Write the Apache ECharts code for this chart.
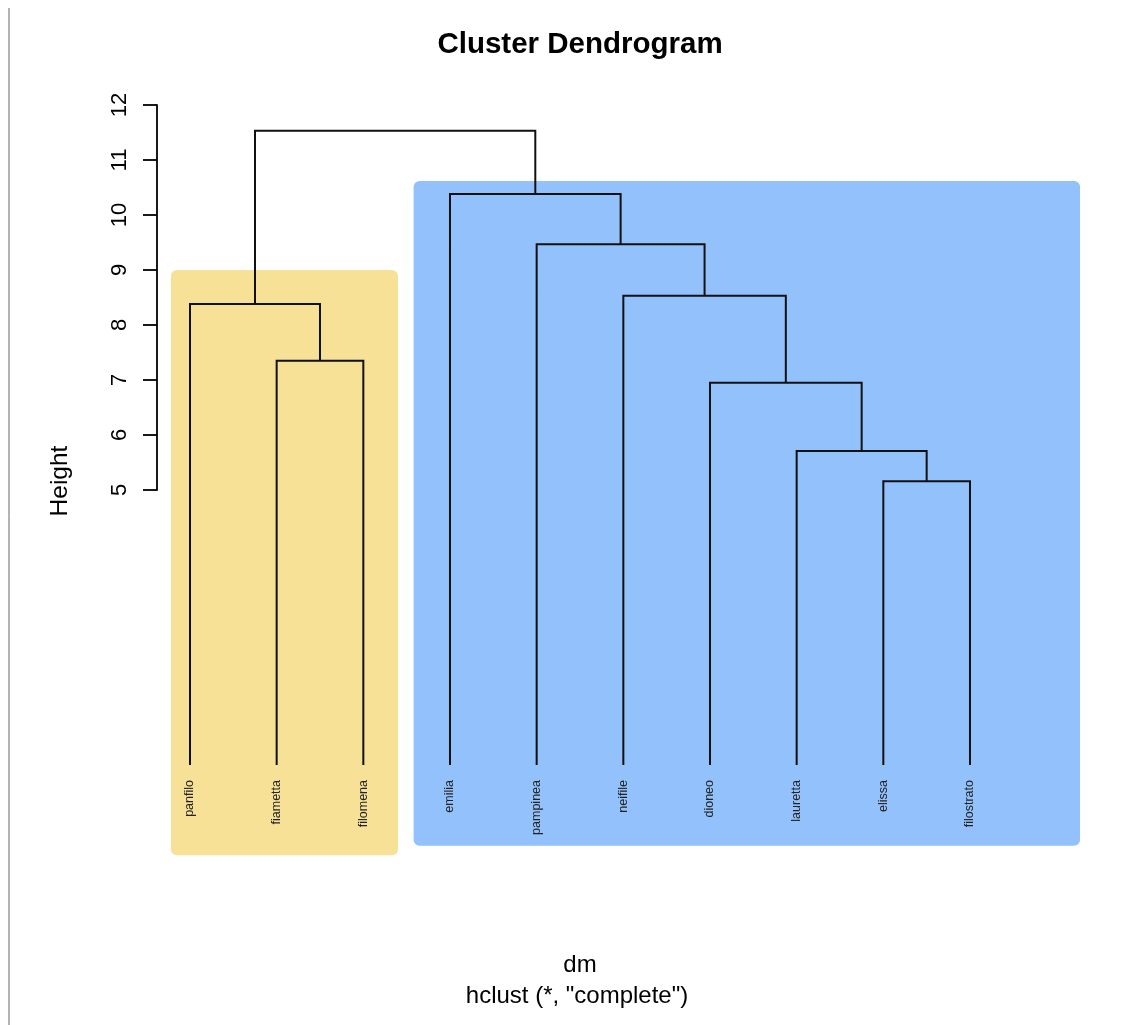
<!DOCTYPE html>
<html>
<head>
<meta charset="utf-8">
<script src="https://cdn.jsdelivr.net/npm/echarts@6/dist/echarts.min.js"></script>
<style>
html,body{margin:0;padding:0;background:#fff;}
#chart{width:1125px;height:1025px;}
</style>
</head>
<body>
<div id="chart"></div>
<script>
// ---- data ----
const leafLabels = ['panfilo','fiametta','filomena','emilia','pampinea','neifile','dioneo','lauretta','elissa','filostrato'];
// R-style merge table: negative = leaf (1-based), positive = earlier merge (1-based)
const mergeLeft  = [-9, -8, -7, -2, -1, -6, -5, -4, 5];
const mergeRight = [-10, 1,  2, -3,  4,  3,  6,  7, 8];
const mergeHeights = [5.16, 5.71, 6.95, 7.35, 8.38, 8.53, 9.47, 10.38, 11.53];
const leafHeight = 0;
const yTicks = [5, 6, 7, 8, 9, 10, 11, 12];
// cluster rectangles (leaf-position units / height units)
const boxLeft   = [0.78, 3.58];
const boxRight  = [3.40, 11.27];
const boxTop    = [9.00, 10.62];
const boxBottom = [-1.64, -1.47];
const boxColors = ['#f6e196', '#92c1fb'];

// ---- derived geometry through scales ----
const nodeX = [], nodeH = [];
function childPos(ref) {
  if (ref < 0) return [-ref, leafHeight];
  return [nodeX[ref - 1], nodeH[ref - 1]];
}
const segs = [];
for (let i = 0; i < mergeHeights.length; i++) {
  const a = childPos(mergeLeft[i]);
  const b = childPos(mergeRight[i]);
  const h = mergeHeights[i];
  segs.push([a[0], a[1], b[0], b[1], h]);
  nodeX.push((a[0] + b[0]) / 2);
  nodeH.push(h);
}
const boxData = boxLeft.map((v, i) => [v, boxRight[i], boxTop[i], boxBottom[i], i]);
const leafData = leafLabels.map((n, i) => [i + 1, leafHeight, n]);

const FONT = '"Liberation Sans", Arial, Helvetica, sans-serif';
const chart = echarts.init(document.getElementById('chart'), null, {renderer: 'canvas'});
chart.setOption({
  backgroundColor: '#ffffff',
  animation: false,
  grid: [
    {left: 103.33, top: 105, width: 953.33, height: 770},
    {left: 157, top: 105, width: 2, height: 385}
  ],
  xAxis: [
    {type: 'value', gridIndex: 0, min: 0, max: 11, show: false},
    {type: 'value', gridIndex: 1, min: 0, max: 1, show: false}
  ],
  yAxis: [
    {type: 'value', gridIndex: 0, min: -2, max: 12, show: false},
    {
      type: 'value', gridIndex: 1, min: yTicks[0], max: yTicks[yTicks.length - 1], interval: 1,
      axisLine: {show: true, lineStyle: {color: '#000', width: 1.8}},
      axisTick: {show: true, length: 14, lineStyle: {color: '#000', width: 1.8}},
      axisLabel: {rotate: 90, fontSize: 22, color: '#000', fontFamily: FONT, margin: 26},
      splitLine: {show: false}
    }
  ],
  graphic: [
    {type: 'line', shape: {x1: 9, y1: 8, x2: 9, y2: 1025}, style: {stroke: '#666', lineWidth: 1}},
    {type: 'text', x: 580, y: 45, style: {text: 'Cluster Dendrogram', fontSize: 29.5, fontWeight: 'bold', fontFamily: FONT, fill: '#000', align: 'center', verticalAlign: 'middle'}},
    {type: 'text', x: 60, y: 481, rotation: Math.PI / 2, style: {text: 'Height', fontSize: 24.5, fontFamily: FONT, fill: '#000', align: 'center', verticalAlign: 'middle'}},
    {type: 'text', x: 580, y: 965, style: {text: 'dm', fontSize: 24, fontFamily: FONT, fill: '#000', align: 'center', verticalAlign: 'middle'}},
    {type: 'text', x: 577, y: 996, style: {text: 'hclust (*, "complete")', fontSize: 24, fontFamily: FONT, fill: '#000', align: 'center', verticalAlign: 'middle'}}
  ],
  series: [
    {
      type: 'custom', name: 'clusters', xAxisIndex: 0, yAxisIndex: 0, z: 1,
      data: boxData,
      renderItem: function (params, api) {
        const p0 = api.coord([api.value(0), api.value(2)]);
        const p1 = api.coord([api.value(1), api.value(3)]);
        return {
          type: 'rect',
          shape: {x: p0[0], y: p0[1], width: p1[0] - p0[0], height: p1[1] - p0[1], r: 6},
          style: {fill: boxColors[api.value(4)]}
        };
      }
    },
    {
      type: 'custom', name: 'tree', xAxisIndex: 0, yAxisIndex: 0, z: 3,
      data: segs,
      renderItem: function (params, api) {
        const a = api.coord([api.value(0), api.value(1)]);
        const at = api.coord([api.value(0), api.value(4)]);
        const bt = api.coord([api.value(2), api.value(4)]);
        const b = api.coord([api.value(2), api.value(3)]);
        return {
          type: 'polyline',
          shape: {points: [a, at, bt, b]},
          style: {stroke: '#111', lineWidth: 2, fill: null}
        };
      }
    },
    {
      type: 'custom', name: 'leaves', xAxisIndex: 0, yAxisIndex: 0, z: 4,
      data: leafData,
      renderItem: function (params, api) {
        const p = api.coord([api.value(0), api.value(1)]);
        return {
          type: 'text',
          x: p[0], y: p[1] + 15,
          rotation: Math.PI / 2,
          style: {text: leafLabels[params.dataIndex], align: 'right', verticalAlign: 'middle', fontSize: 12.5, fontFamily: FONT, fill: '#222'}
        };
      }
    }
  ]
});
</script>
</body>
</html>
